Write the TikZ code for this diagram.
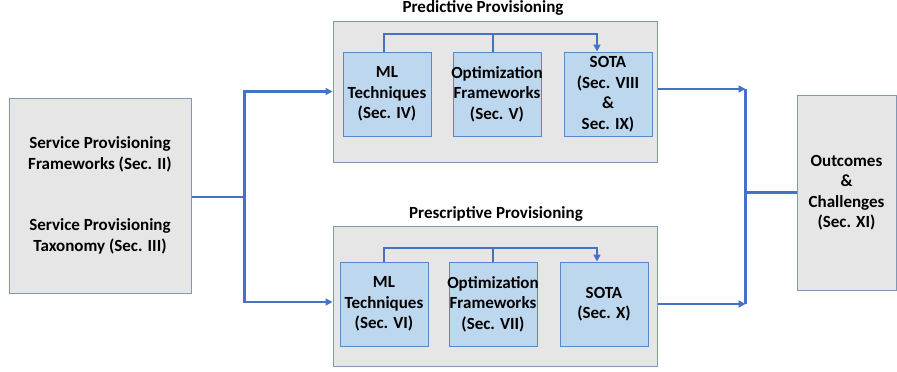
\documentclass[tikz,border=0pt]{standalone}
\usepackage{fontspec}
\setmainfont{Carlito}
\usetikzlibrary{positioning,arrows.meta}
\definecolor{greyfill}{HTML}{E7E6E6}
\definecolor{framecol}{HTML}{8497B0}
\definecolor{subfill}{HTML}{BDD7EE}
\definecolor{subframe}{HTML}{5B87C6}
\definecolor{linkcol}{HTML}{4472C4}
\newcommand{\wide}[1]{\makebox[80pt]{#1}}

\begin{document}
\begin{tikzpicture}[x=1pt,y=-1pt,
  font=\fontsize{17}{20.5}\selectfont\bfseries,
  grey/.style={draw=framecol,fill=greyfill,line width=1pt,align=center,inner sep=0pt},
  sub/.style={draw=subframe,fill=subfill,line width=1pt,align=center,inner sep=0pt,
    minimum width=88,minimum height=84},
  title/.style={inner sep=0pt},
  conn/.style={draw=linkcol,line width=2.5pt},
  link/.style={draw=linkcol,line width=2pt},
  >={Triangle[length=7pt,width=7pt]}]
\useasboundingbox (0,0) rectangle (897,372);

\node[grey,minimum width=182,minimum height=195] (src) at (100,195.5)
  {Service Provisioning\\Frameworks (Sec. II)\\[41pt]Service Provisioning\\Taxonomy (Sec. III)};

\node[grey,minimum width=324,minimum height=141] (pred) at (495,91.5) {};
\node[title] (predT) at (483,8) {Predictive Provisioning};
\node[sub] (predML) at (387,94) {ML\\Techniques\\(Sec. IV)};
\node[sub,right=21pt of predML] (predOpt) {\wide{Optimization}\\Frameworks\\(Sec. V)};
\node[sub,right=22pt of predOpt] (predSota) {SOTA\\(Sec. VIII\\\&\\Sec. IX)};

\node[grey,minimum width=324,minimum height=140] (presc) at (495,296) {};
\node[title] (prescT) at (496,214) {Prescriptive Provisioning};
\node[sub] (prescML) at (384,304) {ML\\Techniques\\(Sec. VI)};
\node[sub,right=20pt of prescML] (prescOpt) {\wide{Optimization}\\Frameworks\\(Sec. VII)};
\node[sub,right=22pt of prescOpt] (prescSota) {SOTA\\(Sec. X)};

\node[grey,minimum width=99,minimum height=195] (outc) at (846.5,192.5)
  {Outcomes\\\&\\Challenges\\(Sec. XI)};

\draw[link,->] ([xshift=-3pt]predML.north) -- ++(0,-18) -| ([xshift=-11pt]predSota.north);
\draw[link] ([xshift=-4pt]predOpt.north) -- ++(0,-18);
\draw[link,->] (prescML.north) -- ++(0,-14) -| ([xshift=-7pt]prescSota.north);
\draw[link] (prescOpt.north) -- ++(0,-14);

\draw[conn] ([yshift=-1.5pt]src.east) -- ++(53,0) coordinate (split);
\draw[conn,->] (split) |- (pred.west);
\draw[conn,->] (split) |- ([yshift=-6pt]presc.west);

\draw[conn,->] ([yshift=2.5pt]pred.east) -- ++(88,0) coordinate (joinT);
\draw[conn,->] ([yshift=-8pt]presc.east) -- ++(88,0) coordinate (joinB);
\draw[conn] (joinT) -- (joinB);
\draw[conn] (joinT |- outc.west) -- (outc.west);
\end{tikzpicture}
\end{document}
